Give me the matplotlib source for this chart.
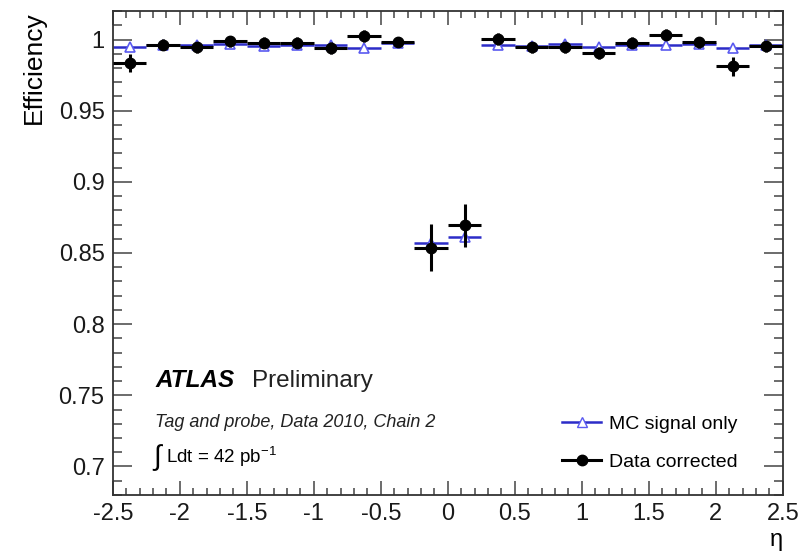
import numpy as np
import matplotlib
matplotlib.use("Agg")
import matplotlib.pyplot as plt
from matplotlib.lines import Line2D
from matplotlib.ticker import MultipleLocator

plt.rcParams['font.family'] = ['Liberation Sans', 'DejaVu Sans']
plt.rcParams['mathtext.fontset'] = 'custom'
plt.rcParams['mathtext.rm'] = 'Liberation Sans'
plt.rcParams['mathtext.it'] = 'Liberation Sans:italic'

# eta binning: 20 bins of width 0.25
eta_edges = np.arange(-2.5, 2.5001, 0.25)
eta_centers = 0.5 * (eta_edges[:-1] + eta_edges[1:])
half_width = 0.5 * np.diff(eta_edges)

# MC signal-only efficiency
mc_eff = [0.995, 0.9965, 0.996, 0.997, 0.9955, 0.996, 0.9965, 0.994, 0.9975, 0.857,
          0.861, 0.996, 0.9955, 0.997, 0.9945, 0.9965, 0.996, 0.997, 0.994, 0.996]
mc_err = [0.001] * 20

# background-corrected data efficiency
data_eff = [0.9836, 0.9965, 0.9946, 0.9988, 0.9977, 0.9977, 0.9941, 1.0025, 0.998, 0.8537,
            0.8694, 1.0005, 0.9946, 0.9946, 0.9906, 0.9977, 1.0035, 0.998, 0.9812, 0.9953]
data_err = [0.0065, 0.004, 0.004, 0.004, 0.004, 0.004, 0.004, 0.004, 0.003, 0.0165,
            0.015, 0.004, 0.004, 0.004, 0.004, 0.004, 0.004, 0.004, 0.0065, 0.004]

mc_color = '#2c2cc8'

fig = plt.figure(figsize=(8.12, 5.53), dpi=100)
ax = fig.add_axes([0.139, 0.105, 0.825, 0.875])

ax.errorbar(eta_centers, mc_eff, xerr=half_width, yerr=mc_err, fmt='^',
            color=mc_color, mfc='white', mec='#5a5af0', ms=7, mew=1.2,
            elinewidth=1.8, capsize=0, zorder=2)
ax.errorbar(eta_centers, data_eff, xerr=half_width, yerr=data_err, fmt='o',
            color='black', ms=7.5, elinewidth=2.2, capsize=0, zorder=3)

ax.set_xlim(-2.5, 2.5)
ax.set_ylim(0.68, 1.02)
ax.xaxis.set_major_locator(MultipleLocator(0.5))
ax.xaxis.set_minor_locator(MultipleLocator(0.1))
ax.yaxis.set_major_locator(MultipleLocator(0.05))
ax.yaxis.set_minor_locator(MultipleLocator(0.01))
ax.set_xticklabels([f'{v:g}' for v in ax.get_xticks()])
ax.set_yticklabels([f'{v:g}' for v in ax.get_yticks()])

ax.tick_params(which='both', direction='in', top=True, right=True, width=1.1,
               labelsize=17, color='#444444', labelcolor='#1a1a1a')
ax.tick_params(axis='x', which='major', length=10, pad=6)
ax.tick_params(axis='x', which='minor', length=4.7)
ax.tick_params(axis='y', which='major', length=13.5, pad=6)
ax.tick_params(axis='y', which='minor', length=6.5)
for s in ax.spines.values():
    s.set_linewidth(1.3)
    s.set_color('#333333')

ax.set_xlabel('η', fontsize=17, loc='right', labelpad=3)
ax.set_ylabel('Efficiency', fontsize=19, loc='top', labelpad=9)

ax.text(0.063, 0.236, 'ATLAS', transform=ax.transAxes, fontsize=17.5,
        fontweight='bold', fontstyle='italic', va='center', ha='left')
ax.text(0.207, 0.236, 'Preliminary', transform=ax.transAxes, fontsize=17.5,
        va='center', ha='left', color='#222222')
ax.text(0.063, 0.149, 'Tag and probe, Data 2010, Chain 2', transform=ax.transAxes,
        fontsize=13, fontstyle='italic', va='center', ha='left', color='#222222')
ax.text(0.058, 0.078, r'$\int$', transform=ax.transAxes, fontsize=20,
        va='center', ha='left')
ax.text(0.079, 0.078, r'Ldt = 42 pb$^{-1}$', transform=ax.transAxes,
        fontsize=13.5, va='center', ha='left')

handles = [
    Line2D([], [], color=mc_color, marker='^', mfc='white', mec='#5a5af0',
           ms=7, lw=1.8),
    Line2D([], [], color='black', marker='o', ms=7.5, lw=2.2),
]
ax.legend(handles, ['MC signal only', 'Data corrected'], loc='lower left',
          bbox_to_anchor=(0.645, 0.014), frameon=False, fontsize=14,
          handlelength=2.0, handletextpad=0.4, labelspacing=1.05)

fig.savefig('out.png', dpi=100)
